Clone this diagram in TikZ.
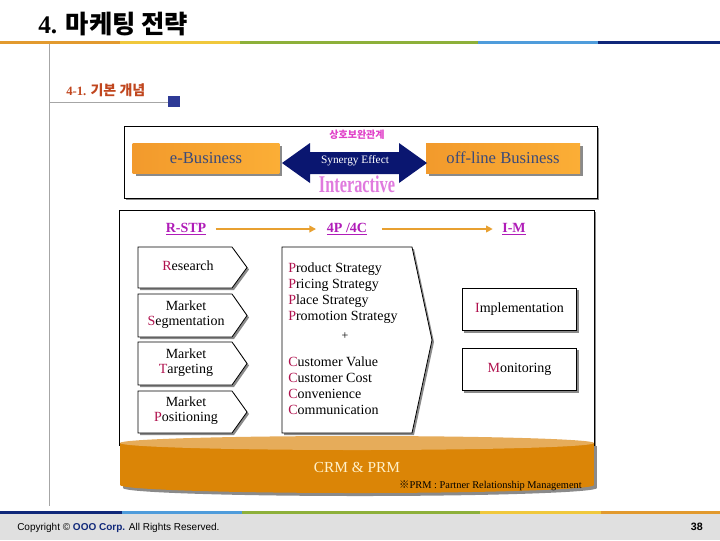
\documentclass[tikz,border=0pt]{standalone}
\usepackage{fontspec}
\usepackage{graphicx}
\setmainfont{Liberation Serif}
\newfontfamily\kr{Noto Sans CJK KR}
\newfontfamily\ftsans{Liberation Sans}
\usetikzlibrary{arrows.meta,shadows}
\definecolor{lnOrange}{HTML}{E29A2E}
\definecolor{lnYellow}{HTML}{F0C83C}
\definecolor{lnGreen}{HTML}{8DB03A}
\definecolor{lnBlue}{HTML}{4F9CDB}
\definecolor{lnNavy}{HTML}{10287A}
\definecolor{footgrey}{HTML}{E0E0E0}
\definecolor{subred}{HTML}{C0461E}
\definecolor{sqnavy}{HTML}{2E3A96}
\definecolor{arrnavy}{HTML}{0A1670}
\definecolor{pinkk}{HTML}{E040C8}
\definecolor{interpink}{HTML}{E07ADE}
\definecolor{hdr}{HTML}{B01CB8}
\definecolor{ini}{HTML}{B0124E}
\definecolor{crm}{HTML}{DB8506}
\definecolor{crmtop}{HTML}{E6AC5A}
\definecolor{crmtext}{HTML}{FFF0C8}
\definecolor{shadowgrey}{HTML}{8A8A8A}
\definecolor{flow}{HTML}{E8A030}
\definecolor{btext}{HTML}{3A4A7A}
\definecolor{boxL}{HTML}{F29A2C}
\definecolor{boxM}{HTML}{FFBA3C}
\definecolor{boxR}{HTML}{FBAE36}
\newcommand\pentshape[5]{%
  \fill[shadowgrey,shift={(2,2)}] (#1,#4) -- (#2,#4) -- (#3,{(#4+#5)/2}) -- (#2,#5) -- (#1,#5) -- cycle;
  \draw[black,line width=0.6pt,fill=white] (#1,#4) -- (#2,#4) -- (#3,{(#4+#5)/2}) -- (#2,#5) -- (#1,#5) -- cycle;}
\newcommand\ini[1]{\textcolor{ini}{#1}}
\tikzset{
  obox/.style={minimum height=22.5pt,inner sep=0pt,left color=boxL,middle color=boxM,right color=boxR,
    draw=none,text=btext,font=\fontsize{12.5}{14}\selectfont,
    drop shadow={shadow xshift=2.2pt,shadow yshift=-2.2pt,fill=shadowgrey,opacity=1}},
  sbox/.style={draw=black,line width=0.6pt,fill=white,minimum height=32pt,inner sep=0pt,
    font=\fontsize{10.5}{12}\selectfont,
    drop shadow={shadow xshift=1.6pt,shadow yshift=-1.6pt,fill=shadowgrey,opacity=1}},
  btxt/.style={font=\fontsize{10.5}{11.3}\selectfont,align=center,inner sep=0pt},
  ltxt/.style={font=\fontsize{10.5}{12}\selectfont,anchor=base west,inner sep=0pt},
  hdrtxt/.style={font=\fontsize{10.5}{12}\selectfont\bfseries,text=hdr,inner sep=0pt},
  flowarrow/.style={draw=flow,line width=1.2pt,-{Triangle[length=5pt,width=5pt]}},
}
\begin{document}
\begin{tikzpicture}[x=0.75pt,y=-0.75pt]
\useasboundingbox (0,0) rectangle (720,540);
% top rule
\fill[lnOrange] (0,40.5) rectangle (120,43.5);
\fill[lnYellow] (120,40.5) rectangle (240,43.5);
\fill[lnGreen] (240,40.5) rectangle (478,43.5);
\fill[lnBlue] (478,40.5) rectangle (598,43.5);
\fill[lnNavy] (598,40.5) rectangle (720,43.5);
% footer
\fill[footgrey] (0,514) rectangle (720,540);
\fill[lnNavy] (0,510.5) rectangle (122,513.5);
\fill[lnBlue] (122,510.5) rectangle (242,513.5);
\fill[lnGreen] (242,510.5) rectangle (480,513.5);
\fill[lnYellow] (480,510.5) rectangle (601,513.5);
\fill[lnOrange] (601,510.5) rectangle (720,513.5);
\draw[gray!70,line width=0.75pt] (49,43.5) -- (49,506);
% title
\node[anchor=base west,inner sep=0pt] (title) at (38,33) {\fontsize{19}{23}\selectfont\bfseries 4. {\kr 마케팅 전략}};
\node[anchor=base west,inner sep=0pt,text=subred] (sub) at (66,95) {\fontsize{9.5}{11}\selectfont\bfseries 4-1. {\kr\fontsize{10.5}{11}\selectfont 기본 개념}};
\draw[gray!70,line width=0.75pt] (49,102) -- (168,102);
\fill[sqnavy] (168,96) rectangle (180,107);
% upper box
\fill[shadowgrey] (126,128) rectangle (599,200);
\draw[black,line width=0.6pt,fill=white] (124,126) rectangle (597,198);
\node[obox,minimum width=110pt] (eb) at (206,158) {e-Business};
\node[obox,minimum width=115.5pt] (ob) at (503,158) {off-line Business};
\fill[arrnavy] (282,163) -- (310,143) -- (310,152) -- (399,152) -- (399,143) -- (427,163) -- (399,183) -- (399,174) -- (310,174) -- (310,183) -- cycle;
\node[text=white,font=\fontsize{8.5}{10}\selectfont,inner sep=0pt] (syn) at (355,161) {Synergy Effect};
\node[text=pinkk,font=\kr\fontsize{7.5}{9}\selectfont\bfseries,inner sep=0pt] (rel) at (357,135) {상호보완관계};
\node[text=interpink,fill=white,font=\fontsize{18}{20}\selectfont\bfseries,inner xsep=1pt,inner ysep=0.5pt] (inter) at (357,184) {\scalebox{0.68}[1]{Interactive}};
% lower box
\fill[shadowgrey] (121,212) rectangle (596,447);
\draw[black,line width=0.6pt,fill=white] (119,210) rectangle (594,445);
\node[hdrtxt] (rstp) at (186,229) {\underline{R-STP}};
\node[hdrtxt] (pc) at (347,229) {\underline{4P /4C}};
\node[hdrtxt] (im) at (514,229) {\underline{I-M}};
\draw[flowarrow,shorten <=7pt,shorten >=8pt] (rstp.east) -- (pc.west);
\draw[flowarrow,shorten <=11pt,shorten >=7pt] (pc.east) -- (im.west);
% left arrow boxes
\pentshape{138}{232}{247}{247}{288}
\pentshape{138}{232}{247}{294}{337}
\pentshape{138}{232}{247}{342}{385}
\pentshape{138}{232}{247}{391}{433}
\node[btxt] (res) at (188,266) {\ini{R}esearch};
\node[btxt] (seg) at (186,315) {Market\\\ini{S}egmentation};
\node[btxt] (tar) at (186,363) {Market\\\ini{T}argeting};
\node[btxt] (pos) at (186,411) {Market\\\ini{P}ositioning};
% middle
\pentshape{282}{412}{432}{247}{433}
\node[ltxt] (p1) at (288,272) {\ini{P}roduct Strategy};
\node[ltxt] (p2) at (288,288) {\ini{P}ricing Strategy};
\node[ltxt] (p3) at (288,304) {\ini{P}lace Strategy};
\node[ltxt] (p4) at (288,320) {\ini{P}romotion Strategy};
\node[font=\fontsize{9}{10}\selectfont,inner sep=0pt] (plus) at (345,336) {+};
\node[ltxt] (c1) at (288,366) {\ini{C}ustomer Value};
\node[ltxt] (c2) at (288,382) {\ini{C}ustomer Cost};
\node[ltxt] (c3) at (288,398) {\ini{C}onvenience};
\node[ltxt] (c4) at (288,414) {\ini{C}ommunication};
% right
\node[sbox,minimum width=86pt] (impl) at (519.5,309.5) {\ini{I}mplementation};
\node[sbox,minimum width=86pt] (mon) at (519.5,369.5) {\ini{M}onitoring};
% CRM disk
\fill[shadowgrey] (123,446) rectangle (597,488);
\fill[shadowgrey] (360,488) ellipse [x radius=237, y radius=8];
\fill[crm] (120,443) rectangle (594,485);
\fill[crm] (357,485) ellipse [x radius=237, y radius=8];
\fill[crmtop] (357,443) ellipse [x radius=237, y radius=7];
\node[text=crmtext,font=\fontsize{11.5}{13}\selectfont,inner sep=0pt] (crmt) at (357,467) {CRM \& PRM};
\node[anchor=base east,font=\fontsize{7.8}{9}\selectfont,inner sep=0pt] (prm) at (582,488) {{\kr ※}PRM : Partner Relationship Management};
% footer text
\node[anchor=base west,inner sep=0pt,font=\ftsans\fontsize{7.5}{9}\selectfont] (copy) at (17,530) {Copyright © \textcolor{lnNavy}{\bfseries OOO Corp.} All Rights Reserved.};
\node[anchor=base east,inner sep=0pt,font=\ftsans\fontsize{8}{9}\selectfont\bfseries] (pg) at (703,530) {38};
\end{tikzpicture}
\end{document}
